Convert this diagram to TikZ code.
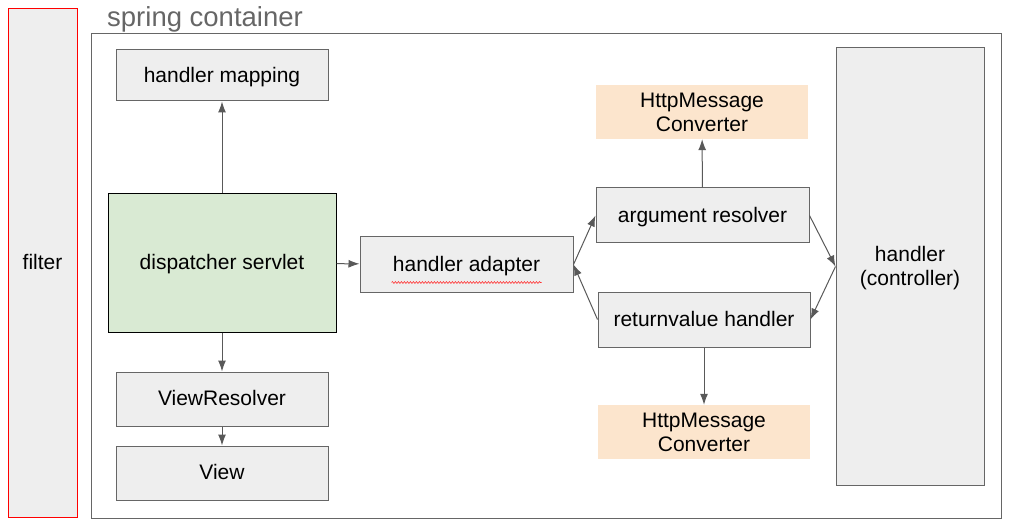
\documentclass[tikz,border=0pt]{standalone}
\usepackage{fontspec}
\setmainfont{Liberation Sans}
\usetikzlibrary{arrows.meta, calc, decorations.pathmorphing}
\definecolor{boxgray}{HTML}{EEEEEE}
\definecolor{edgegray}{HTML}{666666}
\definecolor{servletgreen}{HTML}{D9EAD3}
\definecolor{convorange}{HTML}{FCE5CD}
\definecolor{arrowgray}{HTML}{595959}

\begin{document}
\begin{tikzpicture}[
    x=1pt, y=-1pt,
    box/.style={draw=edgegray, line width=1pt, fill=boxgray, rectangle, font=\fontsize{21}{24}\selectfont, align=center, inner sep=0pt, text depth=2pt},
    servlet/.style={box, draw=black, fill=servletgreen},
    conv/.style={rectangle, fill=convorange, font=\fontsize{21}{24}\selectfont, align=center, inner sep=0pt},
    flow/.style={draw=arrowgray, line width=1pt, -{Latex[length=11pt, width=8pt]}},
    squiggle/.style={draw=red!80, line width=0.6pt, decorate, decoration={snake, amplitude=0.9pt, segment length=3pt}}
]
\useasboundingbox (0,0) rectangle (1019,529);

% Frames
\node[box, draw=red, line width=0.9pt, minimum width=69, minimum height=509] (filter) at (42.5,262.5) {filter};
\node[draw=edgegray, line width=1pt, minimum width=910, minimum height=484, inner sep=0pt] (container) at (546,276) {};
\node[anchor=west, text=edgegray, font=\fontsize{27.5}{31}\selectfont, inner sep=0pt] (title) at (107,19) {spring container};

% Nodes
\node[box, minimum width=212, minimum height=51] (mapping) at (222,75.5) {handler mapping};
\node[servlet, minimum width=228, minimum height=138] (servlet) at (222,263) {dispatcher servlet};
\node[box, minimum width=212, minimum height=54] (viewres) at (222,399) {ViewResolver};
\node[box, minimum width=212, minimum height=54] (view) at (222,473) {View};
\node[box, minimum width=213, minimum height=55] (adapter) at (466.5,264.5) {handler adapter};
\node[box, minimum width=213, minimum height=55] (argres) at (702.5,215.5) {argument resolver};
\node[box, minimum width=212, minimum height=55] (retval) at (704,319.5) {returnvalue handler};
\node[conv, minimum width=212, minimum height=54] (convtop) at (702,112) {HttpMessage\\Converter};
\node[conv, minimum width=212, minimum height=54] (convbot) at (704,432) {HttpMessage\\Converter};
\node[box, minimum width=148, minimum height=437] (handler) at (910,266.5) {handler\\(controller)};

% Spell check mark
\draw[squiggle] ($(adapter.center)+(-75,18)$) -- ($(adapter.center)+(75,18)$);

% Edges
\draw[flow] (servlet) -- (mapping);
\draw[flow] (servlet) -- (adapter);
\draw[flow] (servlet) -- (viewres);
\draw[flow] (viewres) -- (view);
\draw[flow] (adapter.east) -- (argres.west);
\draw[flow] (retval.west) -- (adapter.east);
\draw[flow] (argres.east) -- (handler.west);
\draw[flow] (handler.west) -- (retval.east);
\draw[flow] (argres) -- (convtop);
\draw[flow] (retval) -- (convbot);

\end{tikzpicture}
\end{document}
